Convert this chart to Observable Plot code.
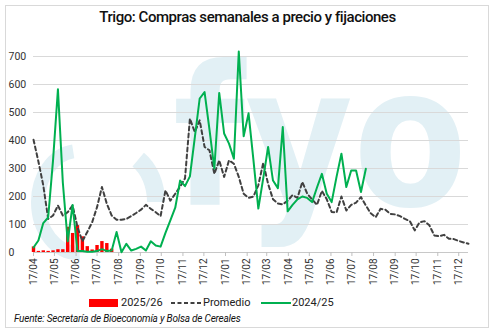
<!DOCTYPE html>
<html>
<head>
<meta charset="utf-8">
<script src="https://cdn.jsdelivr.net/npm/d3@7"></script>
<script src="https://cdn.jsdelivr.net/npm/@observablehq/plot@0.6"></script>
<style>
  body { margin: 0; background: #fff; font-family: Roboto, "Noto Sans", sans-serif; }
  #wrap { position: relative; width: 495px; height: 336px; overflow: hidden; background: #fff; }
  #frame { position: absolute; left: 5px; top: 5px; width: 484px; height: 323px; border: 1px solid #d9d9d9; box-sizing: border-box; }
  #wm { position: absolute; left: 0; top: 0; }
  #title { position: absolute; left: 0; width: 495px; top: 8px; text-align: center; font-size: 15px; font-weight: 500; color: #111; letter-spacing: -0.45px; }
  #chart { position: absolute; left: 0; top: 40px; }
  .lg { position: absolute; top: 296px; font-size: 11px; color: #222; line-height: 14px; }
  #caption { position: absolute; left: 14px; top: 313px; font-style: italic; font-size: 10px; color: #111; letter-spacing: -0.2px; }
</style>
</head>
<body>
<div id="wrap">
  <svg id="wm" width="495" height="336" aria-hidden="true">
    <ellipse cx="78" cy="202" rx="40" ry="51" fill="none" stroke="#e2f0f5" stroke-width="14" stroke-dasharray="0 70 140 200"/>
    <ellipse cx="118" cy="202" rx="38" ry="50" fill="none" stroke="#e2f0f5" stroke-width="18" stroke-dasharray="0 230 150 200"/>
    <g transform="translate(173,205) scale(0.85,1)">
      <text x="0" y="0" font-family="DejaVu Sans" font-weight="bold" font-size="195" fill="#e2f0f5">fyo</text>
    </g>
  </svg>
  <div id="frame"></div>
  <div id="title"></div>
  <div id="chart"></div>
  <div class="lg" style="left:89px;top:299px;width:29px;height:8px;background:#ff0000"></div>
  <div class="lg" style="left:121px" id="lg1"></div>
  <svg class="lg" style="left:171px;top:298px" width="30" height="10"><line x1="0" y1="5" x2="30" y2="5" stroke="#404040" stroke-width="2" stroke-dasharray="4,2.5"/></svg>
  <div class="lg" style="left:203px" id="lg2"></div>
  <svg class="lg" style="left:261px;top:298px" width="30" height="10"><line x1="0" y1="5" x2="30" y2="5" stroke="#00b050" stroke-width="2"/></svg>
  <div class="lg" style="left:292px" id="lg3"></div>
  <div id="caption"></div>
</div>
<script>
// ---- data ----
const weekStart = "2025-04-17";
const seriesNames = ["2025/26", "Promedio", "2024/25"];
const promedio = [403,325,240,120,132,168,132,144,168,91,
                  40,73,108,162,234,174,132,117,117,120,
                  130,141,153,170,156,144,130,222,185,210,
                  235,265,478,430,472,377,365,281,329,270,
                  329,317,270,210,195,200,240,320,245,190,
                  175,172,185,205,195,252,210,190,170,220,
                  190,145,143,200,150,170,178,198,168,140,
                  126,156,153,138,136,130,120,112,79,108,
                  112,97,61,58,63,49,48,41,36,31];
const campana2425 = [18,43,105,125,330,583,250,40,170,5,
                     5,3,3,5,12,5,7,73,1,31,
                     7,13,21,7,40,25,21,70,115,160,
                     257,237,272,410,550,573,440,300,570,425,
                     389,335,718,415,497,330,157,265,377,257,
                     230,448,147,170,190,200,195,180,232,281,
                     210,180,270,353,234,293,293,216,299];
const campana2526 = [20,4,6,4,6,10,10,90,68,96,56,21,9,25,39,32,12];
const yTicks = [0,100,200,300,400,500,600,700];
const tickLabels = ["17/04","17/05","17/06","17/07","17/08","17/09","17/10","17/11","17/12",
                    "17/01","17/02","17/03","17/04","17/05","17/06","17/07","17/08","17/09","17/10","17/11","17/12"];
const titleText = "Trigo: Compras semanales a precio y fijaciones";
const captionText = "Fuente: Secretaría de Bioeconomía y Bolsa de Cereales";

// ---- build ----
const start = new Date(weekStart + "T00:00:00Z");
const weekDate = i => d3.utcDay.offset(start, 7 * i);
const promData = promedio.map((v, i) => ({date: weekDate(i), value: v}));
const greenData = campana2425.map((v, i) => ({date: weekDate(i), value: v}));
const redData = campana2526.map((v, i) => ({date: weekDate(i), value: v}));

let year = start.getUTCFullYear(), prevM = 0;
const tickDates = tickLabels.map(l => {
  const [d, m] = l.split("/").map(Number);
  if (m < prevM) year++;
  prevM = m;
  return new Date(Date.UTC(year, m - 1, d));
});
const labelOf = new Map(tickDates.map((d, i) => [+d, tickLabels[i]]));

document.getElementById("title").textContent = titleText;
document.getElementById("caption").textContent = captionText;
document.getElementById("lg1").textContent = seriesNames[0];
document.getElementById("lg2").textContent = seriesNames[1];
document.getElementById("lg3").textContent = seriesNames[2];

const chart = Plot.plot({
  width: 495,
  height: 250,
  marginLeft: 33,
  marginRight: 27,
  marginTop: 16,
  marginBottom: 38,
  style: {background: "transparent", fontFamily: "Roboto, sans-serif", overflow: "visible"},
  x: {type: "utc", domain: d3.extent(promData, d => d.date)},
  y: {domain: [0, 700]},
  marks: [
    Plot.gridY(yTicks, {stroke: "#d9d9d9", strokeOpacity: 1}),
    Plot.axisY(yTicks, {tickSize: 0, tickPadding: 0, textAnchor: "start", dx: -25, fontSize: 10.5, color: "#333", label: null}),
    Plot.ruleY([0], {stroke: "#c8c8c8"}),
    Plot.axisX(tickDates, {tickRotate: -90, tickSize: 4, tickPadding: 2, stroke: "#c0c0c0", color: "#333", fontSize: 10, label: null,
      tickFormat: d => labelOf.get(+d)}),
    Plot.ruleX(redData, {x: "date", y: "value", stroke: "#ff0000", strokeWidth: 3.4}),
    Plot.line(promData, {x: "date", y: "value", stroke: "#404040", strokeWidth: 2, strokeDasharray: "4,3", strokeLinejoin: "round"}),
    Plot.line(greenData, {x: "date", y: "value", stroke: "#00b050", strokeWidth: 2, strokeLinejoin: "round"})
  ]
});
document.getElementById("chart").appendChild(chart);
</script>
</body>
</html>
